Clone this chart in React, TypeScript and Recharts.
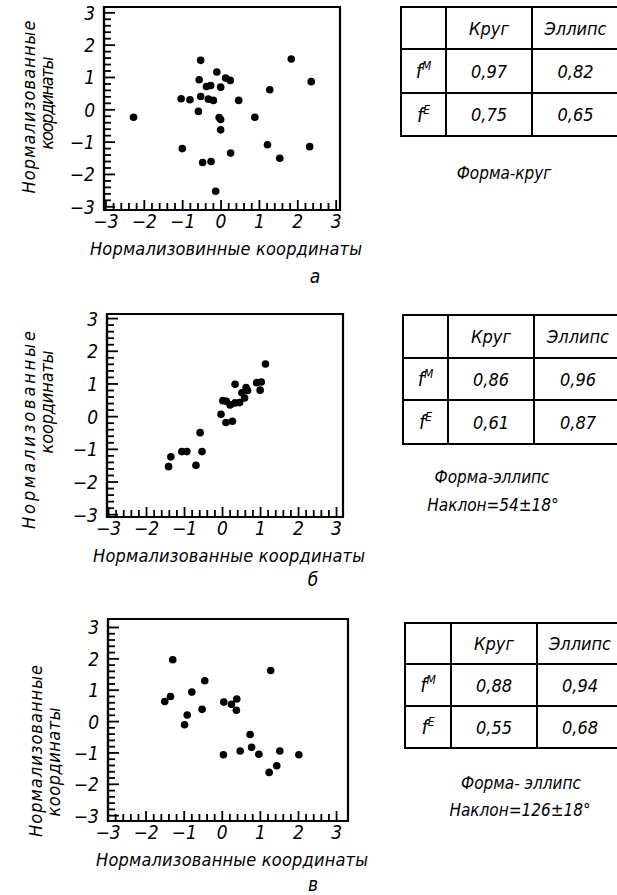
import React from "react";
import { ScatterChart, Scatter, XAxis, YAxis, ReferenceArea } from "recharts";

const FONT = "'DejaVu Sans Condensed', 'Liberation Sans Narrow', 'DejaVu Sans', sans-serif";

// labelled ticks and the fine ticks between them (both axes, all three panels)
const majorTicks = [-3, -2, -1, 0, 1, 2, 3];
const allTicks = [
  -3, -2.8, -2.6, -2.4, -2.2, -2, -1.8, -1.6, -1.4, -1.2, -1, -0.8, -0.6, -0.4, -0.2, 0,
  0.2, 0.4, 0.6, 0.8, 1, 1.2, 1.4, 1.6, 1.8, 2, 2.2, 2.4, 2.6, 2.8, 3,
];

// panel а — normalised coordinates of the points
const pointsA = [
  { x: -2.28, y: -0.23 }, { x: -1.04, y: 0.34 }, { x: -1.01, y: -1.2 }, { x: -0.81, y: 0.31 },
  { x: -0.59, y: -0.05 }, { x: -0.57, y: 0.93 }, { x: -0.53, y: 1.53 }, { x: -0.53, y: 0.41 },
  { x: -0.48, y: -1.63 }, { x: -0.38, y: 0.72 }, { x: -0.33, y: 0.33 }, { x: -0.27, y: 0.75 },
  { x: -0.26, y: -1.6 }, { x: -0.2, y: 0.29 }, { x: -0.14, y: -2.52 }, { x: -0.11, y: 1.17 },
  { x: -0.05, y: -0.24 }, { x: -0.01, y: -0.3 }, { x: -0.01, y: 0.7 }, { x: -0.01, y: -0.62 },
  { x: 0.12, y: 0.98 }, { x: 0.24, y: 0.91 }, { x: 0.25, y: -1.34 }, { x: 0.46, y: 0.29 },
  { x: 0.88, y: -0.23 }, { x: 1.21, y: -1.08 }, { x: 1.27, y: 0.62 }, { x: 1.53, y: -1.5 },
  { x: 1.83, y: 1.57 }, { x: 2.31, y: -1.14 }, { x: 2.35, y: 0.87 },
];

// panel б
const pointsB = [
  { x: -1.42, y: -1.53 }, { x: -1.36, y: -1.23 }, { x: -1.07, y: -1.07 }, { x: -0.94, y: -1.07 },
  { x: -0.7, y: -1.49 }, { x: -0.59, y: -0.49 }, { x: -0.54, y: -1.07 }, { x: -0.04, y: 0.07 },
  { x: 0.01, y: 0.49 }, { x: 0.1, y: 0.47 }, { x: 0.09, y: -0.18 }, { x: 0.2, y: 0.36 },
  { x: 0.26, y: -0.14 }, { x: 0.33, y: 0.42 }, { x: 0.33, y: 0.99 }, { x: 0.45, y: 0.43 },
  { x: 0.51, y: 0.73 }, { x: 0.58, y: 0.57 }, { x: 0.62, y: 0.89 }, { x: 0.66, y: 0.8 },
  { x: 0.9, y: 1.04 }, { x: 0.99, y: 0.81 }, { x: 1.02, y: 1.06 }, { x: 1.13, y: 1.61 },
];

// panel в
const pointsC = [
  { x: -1.51, y: 0.64 }, { x: -1.36, y: 0.8 }, { x: -1.3, y: 1.97 }, { x: -0.99, y: -0.1 },
  { x: -0.92, y: 0.21 }, { x: -0.8, y: 0.94 }, { x: -0.53, y: 0.39 }, { x: -0.46, y: 1.3 },
  { x: 0.04, y: 0.62 }, { x: 0.03, y: -1.06 }, { x: 0.24, y: 0.55 }, { x: 0.38, y: 0.72 },
  { x: 0.37, y: 0.36 }, { x: 0.47, y: -0.94 }, { x: 0.73, y: -0.41 }, { x: 0.77, y: -0.82 },
  { x: 0.96, y: -1.04 }, { x: 1.23, y: -1.62 }, { x: 1.27, y: 1.63 }, { x: 1.43, y: -1.41 },
  { x: 1.51, y: -0.94 }, { x: 2.01, y: -1.06 },
];

// tables
const tableCols = ["Круг", "Эллипс"];
const tableRows = ["M", "E"];
const tableA = [["0,97", "0,82"], ["0,75", "0,65"]];
const tableB = [["0,86", "0,96"], ["0,61", "0,87"]];
const tableC = [["0,88", "0,94"], ["0,55", "0,68"]];

const isMajor = (v: number) => majorTicks.includes(v);
const fmt = (v: number) => (v < 0 ? `\u2212${Math.abs(v)}` : `${v}`);

const txt = { fontFamily: FONT, fontStyle: "italic" as const, fill: "#000" };

// ticks point inwards, only whole numbers get a label
const XTick = (p: any) => {
  const v = p.payload.value;
  const major = isMajor(v);
  return (
    <g>
      <line x1={p.x} y1={p.y} x2={p.x} y2={p.y - (major ? 10 : 7)} stroke="#000" strokeWidth={1.8} />
      {major && (
        <text x={p.x} y={p.y + 11} textAnchor="middle" dominantBaseline="central" fontSize={19} {...txt}>
          {fmt(v)}
        </text>
      )}
    </g>
  );
};

const YTick = (p: any) => {
  const v = p.payload.value;
  const major = isMajor(v);
  return (
    <g>
      <line x1={p.x} y1={p.y} x2={p.x + (major ? 11 : 7)} y2={p.y} stroke="#000" strokeWidth={1.8} />
      {major && (
        <text x={p.x - 9} y={p.y} textAnchor="end" dominantBaseline="central" fontSize={19} {...txt}>
          {fmt(v)}
        </text>
      )}
    </g>
  );
};

function Panel({ top, height, margin, data, xDomain, yDomain, xTitle, letter, yLab }: any) {
  const width = 380;
  const plotL = margin.left + 40;
  const plotR = width - margin.right;
  const plotB = height - margin.bottom - 30;
  const xLabel = () => (
    <g>
      <text x={(plotL + plotR) / 2 + 4} y={plotB + 38} textAnchor="middle" dominantBaseline="central"
        fontSize={18} textLength={272} lengthAdjust="spacing" {...txt}>
        {xTitle}
      </text>
      <text x={letter.x} y={plotB + letter.dy} textAnchor="middle" dominantBaseline="central" fontSize={19} {...txt}>
        {letter.text}
      </text>
    </g>
  );
  const yLabel = () => (
    <g>
      {yLab.map((l: any, i: number) => (
        <text key={i} x={0} y={0} transform={`translate(${l.x},${l.cy}) rotate(-90)`} textAnchor="middle"
          dominantBaseline="central" fontSize={18} textLength={l.len} lengthAdjust="spacing" {...txt}>
          {l.text}
        </text>
      ))}
    </g>
  );
  return (
    <div style={{ position: "absolute", left: 0, top }}>
      <ScatterChart width={width} height={height} margin={margin}>
        <ReferenceArea x1={xDomain[0]} x2={xDomain[1]} y1={yDomain[0]} y2={yDomain[1]}
          fill="#fff" fillOpacity={0} stroke="#000" strokeWidth={2.2} />
        <XAxis type="number" dataKey="x" domain={xDomain} allowDataOverflow ticks={allTicks} interval={0}
          tickLine={false} tickSize={0} tickMargin={0} axisLine={{ stroke: "#000", strokeWidth: 2.2 }}
          tick={(p: any) => <XTick {...p} />} height={30} label={{ content: xLabel }} />
        <YAxis type="number" dataKey="y" domain={yDomain} allowDataOverflow ticks={allTicks} interval={0}
          tickLine={false} tickSize={0} tickMargin={0} axisLine={{ stroke: "#000", strokeWidth: 2.2 }}
          tick={(p: any) => <YTick {...p} />} width={40} label={{ content: yLabel }} />
        <Scatter data={data} isAnimationActive={false}
          shape={(p: any) => <circle cx={p.cx} cy={p.cy} r={3.8} fill="#000" />} />
      </ScatterChart>
    </div>
  );
}

function FTable({ left, top, cols, rows, values }: any) {
  const cell = { border: "2px solid #000", padding: 0, textAlign: "center" as const };
  return (
    <table style={{ position: "absolute", left, top, borderCollapse: "collapse", tableLayout: "fixed",
      width: cols[0] + cols[1] + cols[2], fontFamily: FONT, fontStyle: "italic", fontSize: 18 }}>
      <tbody>
        <tr style={{ height: rows[0] }}>
          <td style={{ ...cell, width: cols[0] }}></td>
          <td style={{ ...cell, width: cols[1] }}>{tableCols[0]}</td>
          <td style={{ ...cell, width: cols[2] }}>{tableCols[1]}</td>
        </tr>
        {tableRows.map((r, i) => (
          <tr key={r} style={{ height: rows[i + 1] }}>
            <td style={{ ...cell, fontSize: 20 }}>f<sup style={{ fontSize: 12 }}>{r}</sup></td>
            <td style={cell}>{values[i][0]}</td>
            <td style={cell}>{values[i][1]}</td>
          </tr>
        ))}
      </tbody>
    </table>
  );
}

const Caption = ({ x, y, text }: any) => (
  <div style={{ position: "absolute", left: x, top: y - 11, transform: "translateX(-50%)", whiteSpace: "nowrap",
    fontFamily: FONT, fontStyle: "italic", fontSize: 17, lineHeight: "22px" }}>
    {text}
  </div>
);

export default function App() {
  return (
    <div style={{ position: "absolute", left: 0, top: 0, width: 617, height: 895, background: "#fff", overflow: "hidden" }}>
      <Panel top={0} height={300} margin={{ top: 7, left: 64, right: 40, bottom: 60 }} data={pointsA}
        xDomain={[-3.05, 3.1]} yDomain={[-3.1, 3.18]} xTitle="Нормализовинные координаты"
        letter={{ text: "а", x: 315, dy: 66 }}
        yLab={[{ text: "Нормализованные", x: 28, cy: 107, len: 173 }, { text: "координаты", x: 46, cy: 103, len: 93 }]} />
      <Panel top={300} height={300} margin={{ top: 14, left: 67, right: 37, bottom: 53 }} data={pointsB}
        xDomain={[-3.04, 3.17]} yDomain={[-3.07, 3.14]} xTitle="Нормализованные координаты"
        letter={{ text: "б", x: 313, dy: 62 }}
        yLab={[{ text: "Нормализованные", x: 28, cy: 130, len: 198 }, { text: "координаты", x: 46, cy: 102, len: 103 }]} />
      <Panel top={600} height={295} margin={{ top: 19, left: 68, right: 32, bottom: 44 }} data={pointsC}
        xDomain={[-3.0, 3.3]} yDomain={[-3.17, 3.27]} xTitle="Нормализованные координаты"
        letter={{ text: "в", x: 313, dy: 63 }}
        yLab={[{ text: "Нормализованные", x: 35, cy: 151, len: 172 }, { text: "координаты", x: 53, cy: 162, len: 109 }]} />

      <FTable left={400} top={6} cols={[43, 84, 85]} rows={[42, 44, 43]} values={tableA} />
      <Caption x={504} y={173} text="Форма-круг" />

      <FTable left={402} top={314} cols={[43, 84, 86]} rows={[43, 42, 44]} values={tableB} />
      <Caption x={492} y={477} text="Форма-эллипс" />
      <Caption x={493} y={505} text="Наклон=54±18°" />

      <FTable left={404} top={622} cols={[44, 84, 84]} rows={[41, 42, 42]} values={tableC} />
      <Caption x={521} y={783} text="Форма- эллипс" />
      <Caption x={520} y={810} text="Наклон=126±18°" />
    </div>
  );
}
